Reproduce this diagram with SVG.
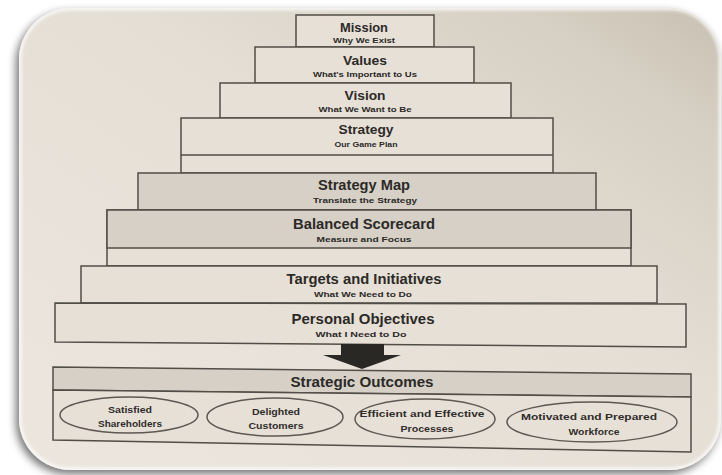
<svg xmlns="http://www.w3.org/2000/svg" width="722" height="475" viewBox="0 0 722 475">
  <defs>
    <linearGradient id="paper" x1="0" y1="1" x2="1" y2="0">
      <stop offset="0" stop-color="#ece6de"/>
      <stop offset="0.55" stop-color="#e5dfd6"/>
      <stop offset="0.85" stop-color="#d7d0c4"/>
      <stop offset="1" stop-color="#c8c0b2"/>
    </linearGradient>
    <filter id="shadow" x="-10%" y="-10%" width="120%" height="125%">
      <feGaussianBlur in="SourceAlpha" stdDeviation="4"/>
      <feOffset dx="-3" dy="4" result="b"/>
      <feComponentTransfer><feFuncA type="linear" slope="0.55"/></feComponentTransfer>
      <feMerge><feMergeNode/><feMergeNode in="SourceGraphic"/></feMerge>
    </filter>
    <filter id="soft"><feGaussianBlur stdDeviation="1.6"/></filter>
    <clipPath id="frameClip"><rect x="19" y="8" width="702" height="462" rx="52"/></clipPath>
    <style>
      .step { fill: #e6e0d7; stroke: #514d47; stroke-width: 1.5; }
      .band { fill: #d6d0c6; stroke: #514d47; stroke-width: 1.5; }
      .rule { fill: none; stroke: #514d47; stroke-width: 1.5; }
      .oval { fill: none; stroke: #5d5852; stroke-width: 1.5; }
      .title { font-family: "Liberation Sans", Arial, sans-serif; font-weight: bold; fill: #2c2a27; text-anchor: middle; }
      .sub { font-family: "Liberation Sans", Arial, sans-serif; font-weight: bold; fill: #2c2a27; text-anchor: middle; font-size: 8px; }
      .otext { font-family: "Liberation Sans", Arial, sans-serif; font-weight: bold; fill: #302d2a; text-anchor: middle; font-size: 9.5px; }
    </style>
  </defs>

  <rect width="722" height="475" fill="#ffffff"/>

  <!-- photographed page with rounded corners -->
  <g filter="url(#shadow)">
    <rect x="19" y="8" width="702" height="462" rx="52" fill="url(#paper)"/>
  </g>
  <g clip-path="url(#frameClip)">
    <rect x="19" y="8" width="702" height="462" rx="52" fill="none" stroke="#ffffff" stroke-opacity="0.75" stroke-width="5" filter="url(#soft)"/>
  </g>

  <!-- staircase -->
  <g id="mission">
    <rect class="step" x="296" y="15" width="138" height="32"/>
    <text class="title" x="364" y="32" font-size="13" textLength="48" lengthAdjust="spacingAndGlyphs">Mission</text>
    <text class="sub" x="364" y="43" textLength="62" lengthAdjust="spacingAndGlyphs">Why We Exist</text>
  </g>
  <g id="values">
    <rect class="step" x="255" y="47" width="219" height="36"/>
    <text class="title" x="365" y="65" font-size="13" textLength="44" lengthAdjust="spacingAndGlyphs">Values</text>
    <text class="sub" x="365" y="77" textLength="104" lengthAdjust="spacingAndGlyphs">What's Important to Us</text>
  </g>
  <g id="vision">
    <rect class="step" x="220" y="83" width="291" height="35"/>
    <text class="title" x="365" y="100" font-size="13" textLength="41" lengthAdjust="spacingAndGlyphs">Vision</text>
    <text class="sub" x="365" y="112" textLength="93" lengthAdjust="spacingAndGlyphs">What We Want to Be</text>
  </g>
  <g id="strategy">
    <rect class="step" x="181" y="118" width="372" height="55"/>
    <line class="rule" x1="181" y1="155" x2="553" y2="155"/>
    <text class="title" x="366" y="134" font-size="13" textLength="55" lengthAdjust="spacingAndGlyphs">Strategy</text>
    <text class="sub" x="366" y="147" textLength="63" lengthAdjust="spacingAndGlyphs">Our Game Plan</text>
  </g>
  <g id="strategy-map">
    <rect class="band" x="138" y="173" width="458" height="37"/>
    <text class="title" x="364" y="190" font-size="14" textLength="92" lengthAdjust="spacingAndGlyphs">Strategy Map</text>
    <text class="sub" x="365" y="203" textLength="104" lengthAdjust="spacingAndGlyphs">Translate the Strategy</text>
  </g>
  <g id="balanced-scorecard">
    <rect class="step" x="107" y="210" width="524" height="56"/>
    <rect class="band" x="107" y="210" width="524" height="38"/>
    <text class="title" x="364" y="229" font-size="14.5" textLength="142" lengthAdjust="spacingAndGlyphs">Balanced Scorecard</text>
    <text class="sub" x="364" y="242" textLength="95" lengthAdjust="spacingAndGlyphs">Measure and Focus</text>
  </g>
  <g id="targets">
    <rect class="step" x="81" y="266" width="576" height="37"/>
    <text class="title" x="364" y="284" font-size="14.5" textLength="155" lengthAdjust="spacingAndGlyphs">Targets and Initiatives</text>
    <text class="sub" x="363" y="297" textLength="98" lengthAdjust="spacingAndGlyphs">What We Need to Do</text>
  </g>
  <g id="personal">
    <polygon class="step" points="55,303 686,304 686,347 55,342"/>
    <text class="title" x="363" y="324" font-size="14.5" textLength="143" lengthAdjust="spacingAndGlyphs">Personal Objectives</text>
    <text class="sub" x="361" y="337" textLength="91" lengthAdjust="spacingAndGlyphs">What I Need to Do</text>
  </g>

  <!-- connector -->
  <g id="connectors">
    <polygon points="341,344 384,344 384,355 401,355 362,369 323,355 341,355" fill="#2a2825"/>
  </g>

  <!-- outcomes -->
  <g id="strategic-outcomes">
    <polygon class="band" points="53,367 691,374 691,397 53,390"/>
    <polygon class="step" points="53,390 691,397 691,452 53,440"/>
    <text class="title" x="362" y="387" font-size="14.5" textLength="143" lengthAdjust="spacingAndGlyphs">Strategic Outcomes</text>
  </g>
  <g id="satisfied-shareholders">
    <ellipse class="oval" cx="129" cy="415" rx="69" ry="18"/>
    <text class="otext" x="130" y="413" textLength="44" lengthAdjust="spacingAndGlyphs">Satisfied</text>
    <text class="otext" x="130" y="427" textLength="64" lengthAdjust="spacingAndGlyphs">Shareholders</text>
  </g>
  <g id="delighted-customers">
    <ellipse class="oval" cx="275" cy="417" rx="68" ry="19"/>
    <text class="otext" x="276" y="415" textLength="48" lengthAdjust="spacingAndGlyphs">Delighted</text>
    <text class="otext" x="276" y="429" textLength="55" lengthAdjust="spacingAndGlyphs">Customers</text>
  </g>
  <g id="efficient-processes">
    <ellipse class="oval" cx="425" cy="419" rx="70" ry="20"/>
    <text class="otext" x="422" y="417" textLength="125" lengthAdjust="spacingAndGlyphs">Efficient and Effective</text>
    <text class="otext" x="427" y="432" textLength="53" lengthAdjust="spacingAndGlyphs">Processes</text>
  </g>
  <g id="motivated-workforce">
    <ellipse class="oval" cx="592" cy="422" rx="85" ry="20"/>
    <text class="otext" x="589" y="420" textLength="136" lengthAdjust="spacingAndGlyphs">Motivated and Prepared</text>
    <text class="otext" x="594" y="435" textLength="51" lengthAdjust="spacingAndGlyphs">Workforce</text>
  </g>
</svg>
